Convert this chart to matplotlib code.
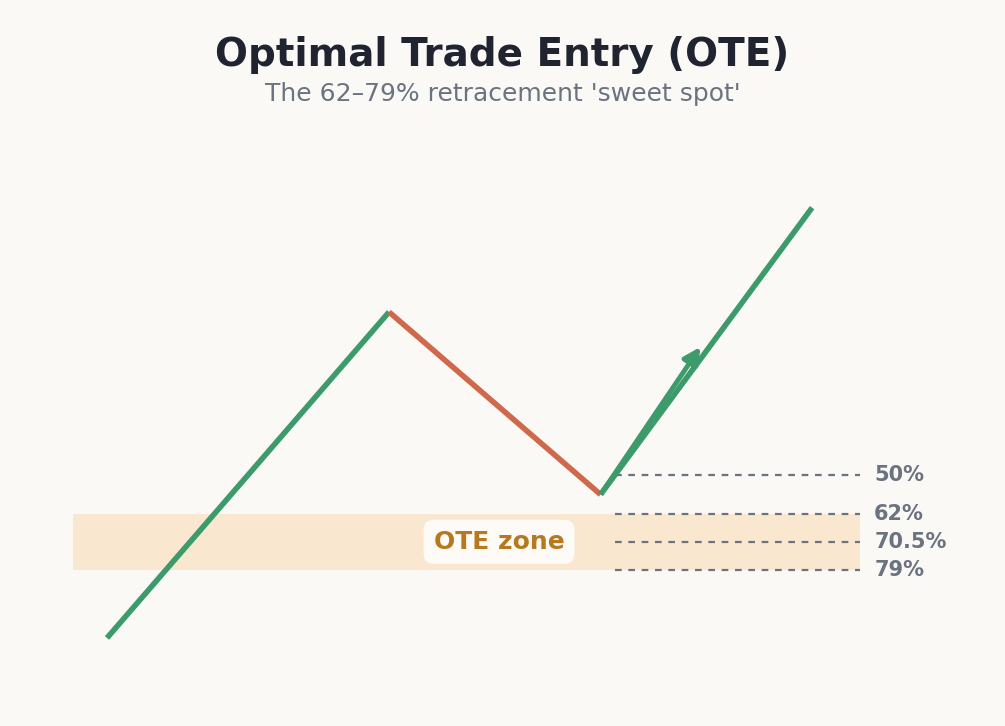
import matplotlib.pyplot as plt
from matplotlib.patches import FancyArrowPatch

# swing structure (price units: swing low = 0, swing high = 100)
up_x = [0, 10]
up_y = [0, 100]
down_x = [10, 17.5]
down_y = [100, 44]
cont_x = [17.5, 25]
cont_y = [44, 132]
arrow_from = (17.5, 44)
arrow_to = (21.1, 90)

fib_labels = ['50%', '62%', '70.5%', '79%']
fib_levels = [50, 38, 29.5, 21]
zone_top, zone_bot = 38, 21

GREEN = '#3d9a6a'
RED = '#d0694c'
BG = '#faf9f5'

fig = plt.figure(figsize=(10.05, 7.26), dpi=100, facecolor=BG)
ax = fig.add_axes([0, 0, 1, 1])
ax.set_facecolor(BG)
ax.set_xlim(-3.794, 31.84)
ax.set_ylim(-27.0, 195.7)
ax.axis('off')

ax.fill_between([-1.2, 26.7], zone_bot, zone_top, color='#f9e8cf', lw=0, zorder=1)
for lab, lv in zip(fib_labels, fib_levels):
    ax.plot([18.0, 26.7], [lv, lv], ls=(0, (3, 3)), color='#6b7280', lw=1.6, zorder=2)
    ax.text(27.2, lv, lab, color='#6b7280', fontsize=15, fontweight='bold', va='center')

ax.plot(up_x, up_y, color=GREEN, lw=4, solid_capstyle='butt', zorder=3)
ax.plot(down_x, down_y, color=RED, lw=4, solid_capstyle='butt', zorder=3)
ax.plot(cont_x, cont_y, color=GREEN, lw=4, solid_capstyle='butt', zorder=3)
ax.add_patch(FancyArrowPatch(arrow_from, arrow_to, arrowstyle='-|>', mutation_scale=25,
                             color=GREEN, lw=3.5, zorder=4))

ax.text(13.9, 29.5, 'OTE zone', color='#b7791f', fontsize=18, fontweight='bold',
        ha='center', va='center', zorder=5,
        bbox=dict(boxstyle='round,pad=0.4', fc='white', ec='none', alpha=0.85))

fig.text(0.5, 1 - 55 / 726, 'Optimal Trade Entry (OTE)', ha='center', va='center',
         fontsize=28, fontweight='bold', color='#1f2430')
fig.text(0.5, 1 - 94 / 726, "The 62–79% retracement 'sweet spot'", ha='center', va='center',
         fontsize=18, color='#6b7280')

fig.savefig('out.png', dpi=100, facecolor=BG)
